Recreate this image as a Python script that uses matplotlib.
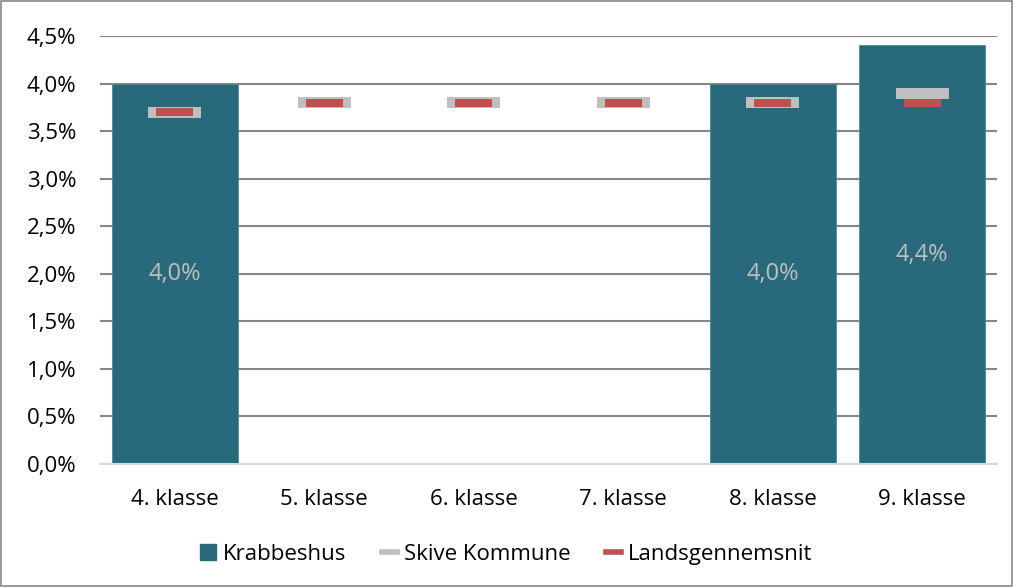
"""Recreation of a grouped class chart: Krabbeshus vs. Skive Kommune vs. national average."""

import matplotlib

matplotlib.use("Agg")
import matplotlib.pyplot as plt
from matplotlib.lines import Line2D
from matplotlib.patches import Patch, Rectangle
from matplotlib.ticker import FuncFormatter, MultipleLocator

# Data (percent)
classes = ["4. klasse", "5. klasse", "6. klasse", "7. klasse", "8. klasse", "9. klasse"]
krabbeshus = [4.0, None, None, None, 4.0, 4.4]
skive = [3.7, 3.8, 3.8, 3.8, 3.8, 3.9]
lands = [3.7, 3.8, 3.8, 3.8, 3.8, 3.8]

BAR_COLOR = "#286A7C"
GRAY = "#BFBFBF"
RED = "#C0504D"

plt.rcParams["font.family"] = ["Open Sans", "DejaVu Sans"]

fig = plt.figure(figsize=(10.13, 5.87), dpi=100)
ax = fig.add_axes([0.0987, 0.2095, 0.8855, 0.7292])

x = list(range(len(classes)))

# Main bars with value labels
for xi, v in zip(x, krabbeshus):
    if v is None:
        continue
    ax.bar(xi, v, width=0.84, color=BAR_COLOR, edgecolor="#4E8A9A", linewidth=0.6, zorder=2)
    ax.text(xi, v / 2, f"{v:.1f}%".replace(".", ","), ha="center", va="center",
            color="#BFBFBF", fontsize=17, zorder=5)

# Marker-style bars for comparison series
gray_h = 0.116
red_h = 0.084
ax.bar(x, [gray_h] * len(x), bottom=[v - gray_h / 2 for v in skive], width=0.355,
       color=GRAY, zorder=3)
ax.bar(x, [red_h] * len(x), bottom=[v - red_h / 2 for v in lands], width=0.25,
       color=RED, zorder=4)

ax.set_xlim(-0.5, len(classes) - 0.5)
ax.set_ylim(0, 4.5)
ax.yaxis.set_major_locator(MultipleLocator(0.5))
ax.yaxis.set_major_formatter(FuncFormatter(lambda v, _: f"{v:.1f}%".replace(".", ",")))
ax.set_xticks(x)
ax.set_xticklabels(classes)
ax.tick_params(axis="both", length=0, labelsize=16, colors="#000000")
ax.tick_params(axis="x", pad=18)
ax.tick_params(axis="y", pad=17)

ax.grid(axis="y", color="#868686", linewidth=1.5, zorder=1)
ax.set_axisbelow(True)
for side in ["top", "right", "left"]:
    ax.spines[side].set_visible(False)
ax.spines["bottom"].set_color("#D9D9D9")
ax.spines["bottom"].set_linewidth(1.5)
ax.spines["bottom"].set_zorder(6)

handles = [
    Patch(facecolor=BAR_COLOR, edgecolor=BAR_COLOR, label="Krabbeshus"),
    Line2D([0], [0], color=GRAY, linewidth=4, label="Skive Kommune"),
    Line2D([0], [0], color=RED, linewidth=4, label="Landsgennemsnit"),
]
fig.legend(handles=handles, loc="center", bbox_to_anchor=(0.5, 0.056), ncol=3,
           frameon=False, fontsize=16, handlelength=0.7, handleheight=0.7,
           handletextpad=0.3, columnspacing=1.6)

# Outer chart border
fig.patches.append(Rectangle((0.001, 0.002), 0.998, 0.996, transform=fig.transFigure,
                             fill=False, edgecolor="#878787", linewidth=1.2))

fig.savefig("out.png", dpi=100)
